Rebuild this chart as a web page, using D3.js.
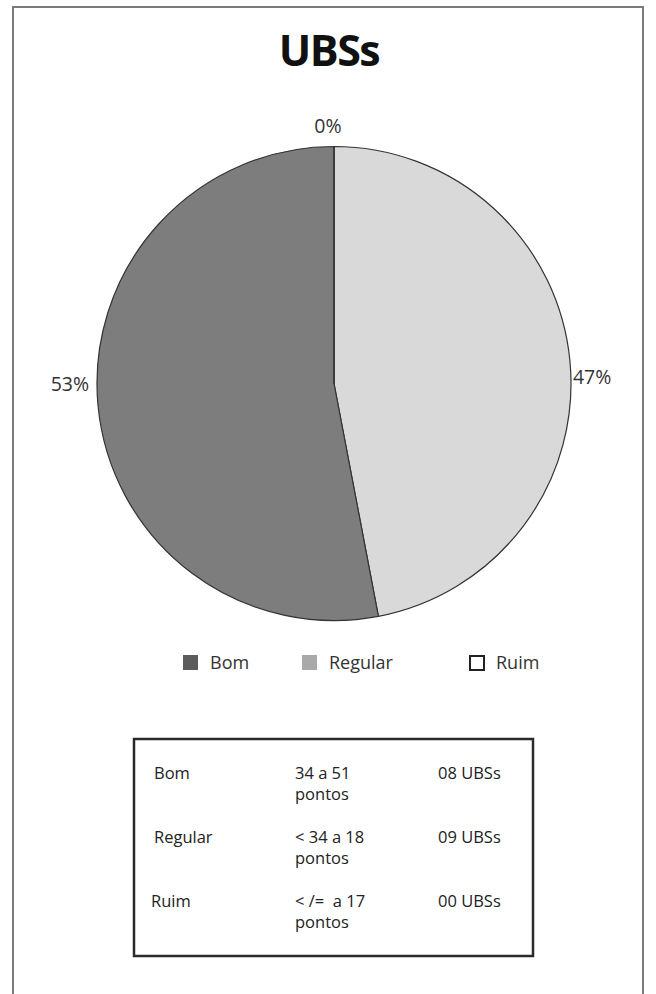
<!DOCTYPE html>
<html>
<head>
<meta charset="utf-8">
<script src="https://cdn.jsdelivr.net/npm/d3@7"></script>
<style>
  html, body { margin: 0; padding: 0; background: #fff; }
  svg { display: block; }
  text { font-family: "Open Sans", "Noto Sans", sans-serif; fill: #222; white-space: pre; }
</style>
</head>
<body>
<svg id="chart" width="656" height="994"></svg>
<script>
// Pie slices, in drawing order (clockwise from 12 o'clock)
const sliceNames = ["Regular", "Bom", "Ruim"];
const slicePercents = [47, 53, 0];
const sliceColors = ["#d9d9d9", "#7d7d7d", "#ffffff"];

// Legend entries
const legendNames = ["Bom", "Regular", "Ruim"];
const legendColors = ["#5c5c5c", "#a9a9a9", "#ffffff"];

// Classification table
const tableNames = ["Bom", "Regular", "Ruim"];
const tableRanges = ["34 a 51", "< 34 a 18", "< /=  a 17"];
const tableUnit = "pontos";
const tableCounts = ["08 UBSs", "09 UBSs", "00 UBSs"];

const W = 656, H = 994;
const svg = d3.select("#chart");

// outer frame (open at the bottom)
svg.append("path")
  .attr("d", `M13,${H} V7 H643 V${H}`)
  .attr("fill", "none")
  .attr("stroke", "#7a7a7a")
  .attr("stroke-width", 2);

// title
svg.append("text")
  .attr("x", 329).attr("y", 66)
  .attr("text-anchor", "middle")
  .attr("font-size", 43)
  .attr("font-weight", 700)
  .attr("letter-spacing", -1.5)
  .style("fill", "#111")
  .text("UBSs");

// pie
const cx = 334, cy = 383.5, r = 237;
const pie = d3.pie().sort(null).value(d => d.v);
const arcs = pie(slicePercents.map((v, i) => ({ v, name: sliceNames[i], color: sliceColors[i] })));
const arc = d3.arc().innerRadius(0).outerRadius(r);
const labelArc = d3.arc().innerRadius(r + 6).outerRadius(r + 6);

const g = svg.append("g").attr("transform", `translate(${cx},${cy})`);
g.selectAll("path.slice")
  .data(arcs)
  .join("path")
  .attr("class", "slice")
  .attr("d", arc)
  .attr("fill", d => d.data.color)
  .attr("stroke", "#333")
  .attr("stroke-width", 1.2)
  .attr("stroke-linejoin", "round");

g.selectAll("text.pct")
  .data(arcs)
  .join("text")
  .attr("class", "pct")
  .attr("font-size", 19.5)
  .style("fill", "#333")
  .each(function (d) {
    const mid = (d.startAngle + d.endAngle) / 2;
    const [lx, ly] = labelArc.centroid(d);
    const s = Math.sin(mid);
    const t = d3.select(this);
    if (Math.abs(s) < 0.2) {
      t.attr("x", lx - 6).attr("y", ly - 8).attr("text-anchor", "middle");
    } else {
      t.attr("x", lx - 3)
       .attr("y", ly * 0.15 - 3)
       .attr("dy", "0.35em")
       .attr("text-anchor", s > 0 ? "start" : "end");
    }
  })
  .text(d => `${d.data.v}%`);

// legend
const legendX = d3.scaleOrdinal().domain(legendNames).range([183, 302, 469]);
const items = svg.append("g").selectAll("g")
  .data(legendNames)
  .join("g")
  .attr("transform", d => `translate(${legendX(d)},655)`);
items.append("rect")
  .attr("width", d => d === "Ruim" ? 14 : 15)
  .attr("height", d => d === "Ruim" ? 14 : 15)
  .attr("x", d => d === "Ruim" ? 1 : 0)
  .attr("y", d => d === "Ruim" ? 1 : 0)
  .attr("fill", (d, i) => legendColors[i])
  .attr("stroke", d => d === "Ruim" ? "#222" : "none")
  .attr("stroke-width", 2);
items.append("text")
  .attr("x", 27)
  .attr("y", 14)
  .attr("font-size", 18)
  .style("fill", "#333")
  .text(d => d);

// classification table
const box = { x: 134, y: 739, w: 399, h: 217 };
svg.append("rect")
  .attr("x", box.x).attr("y", box.y)
  .attr("width", box.w).attr("height", box.h)
  .attr("fill", "#fff")
  .attr("stroke", "#2a2a2a")
  .attr("stroke-width", 2.5);

const rowY = d3.scalePoint().domain(tableNames).range([779, 907]);
const tg = svg.append("g");
tableNames.forEach((name, i) => {
  const y = rowY(name);
  tg.append("text").attr("x", name === "Ruim" ? 151 : 154).attr("y", y).attr("font-size", 16.5).text(name);
  tg.append("text").attr("x", 295).attr("y", y).attr("font-size", 16.5).text(tableRanges[i]);
  tg.append("text").attr("x", 295).attr("y", y + 21).attr("font-size", 16.5).text(tableUnit);
  tg.append("text").attr("x", 438).attr("y", y).attr("font-size", 16.5).text(tableCounts[i]);
});
</script>
</body>
</html>
